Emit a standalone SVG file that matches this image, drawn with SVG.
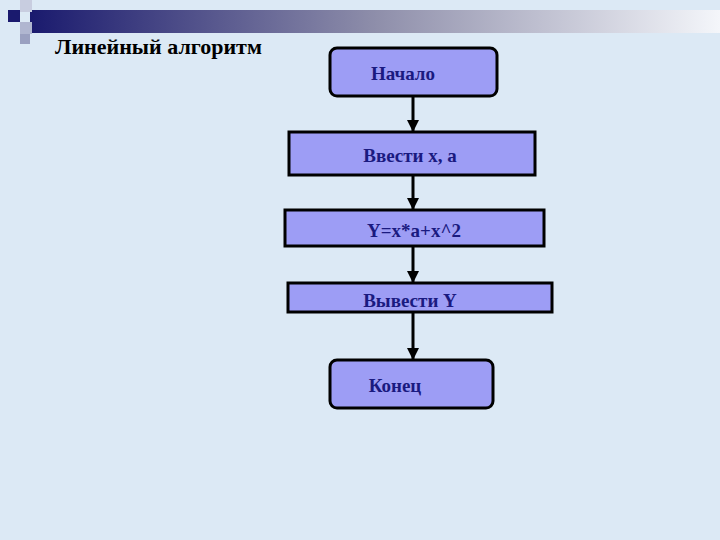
<svg xmlns="http://www.w3.org/2000/svg" width="720" height="540" viewBox="0 0 720 540">
<defs>
<linearGradient id="bar" x1="0" x2="1" y1="0" y2="0">
<stop offset="0" stop-color="#1a1a6e"/><stop offset="0.5" stop-color="#8e8eaa"/><stop offset="1" stop-color="#f4f6fa"/>
</linearGradient>
<marker id="ah" viewBox="0 0 10 10" refX="10" refY="5" markerWidth="4" markerHeight="4" orient="auto"><path d="M0,0L10,5L0,10z" fill="#000"/></marker>
<style>
.n{fill:#9d9df5;stroke:#000;stroke-width:3}
.t{font-family:"Liberation Serif",serif;font-weight:bold;font-size:19px;fill:#1a1a80;text-anchor:middle}
.c{stroke:#000;stroke-width:3;fill:none;marker-end:url(#ah)}
</style>
</defs>
<rect width="720" height="540" fill="#dce9f5"/>
<g id="decor">
<rect x="30" y="10" width="690" height="23" fill="url(#bar)"/>
<rect x="8" y="10" width="12" height="12" fill="#1a1a6e"/>
<rect x="20" y="0" width="12" height="12" fill="#c8cde0"/>
<rect x="20" y="22" width="12" height="12" fill="#b0b6d0"/>
<rect x="20" y="34" width="10" height="10" fill="#9aa0c0"/>
</g>
<text x="55" y="54" font-family="Liberation Serif,serif" font-weight="bold" font-size="22" fill="#000">Линейный алгоритм</text>
<g id="connectors">
<line class="c" x1="413" y1="96" x2="413" y2="132"/>
<line class="c" x1="413" y1="175" x2="413" y2="210"/>
<line class="c" x1="413" y1="246" x2="413" y2="283"/>
<line class="c" x1="413" y1="312" x2="413" y2="360"/>
</g>
<g id="start"><rect class="n" x="330" y="48" width="167" height="48" rx="7"/><text class="t" x="403" y="80">Начало</text></g>
<g id="input"><rect class="n" x="289" y="132" width="246" height="43"/><text class="t" x="410" y="162">Ввести x, a</text></g>
<g id="calc"><rect class="n" x="285" y="210" width="259" height="36"/><text class="t" x="414" y="237">Y=x*a+x^2</text></g>
<g id="output"><rect class="n" x="288" y="283" width="264" height="29"/><text class="t" x="410" y="307">Вывести Y</text></g>
<g id="end"><rect class="n" x="330" y="360" width="163" height="48" rx="7"/><text class="t" x="395" y="392">Конец</text></g>
</svg>
